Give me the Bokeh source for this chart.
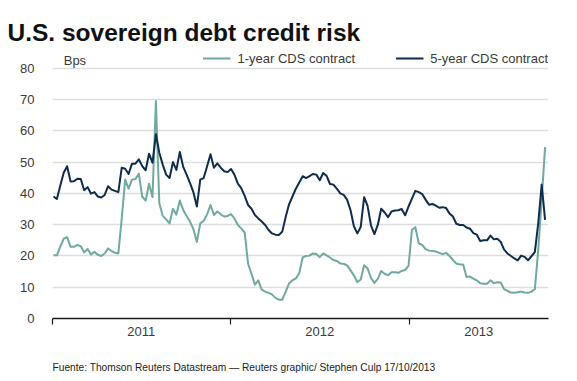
import pandas as pd
from bokeh.plotting import figure
from bokeh.models import FixedTicker, Legend, LegendItem, Label, Title, ColumnDataSource
from bokeh.embed import file_html
from bokeh.resources import INLINE

# ---------------- data ----------------
start_date = "2011-01-03"
one_year = [
    20.2, 20.2, 23.0, 25.5, 26.0, 22.9, 22.9, 23.5, 23.1, 21.1,
    22.2, 20.5, 21.3, 20.4, 20.0, 20.8, 22.4, 21.6, 21.0, 20.8,
    32.0, 44.4, 41.5, 44.4, 44.6, 46.3, 39.0, 37.7, 43.1, 38.8,
    69.5, 36.9, 32.8, 31.7, 30.4, 35.1, 33.2, 37.7, 34.7, 32.8,
    31.0, 28.5, 24.5, 30.4, 31.2, 33.3, 36.3, 33.1, 34.2, 33.3,
    32.6, 32.8, 33.4, 32.0, 29.9, 28.8, 27.5, 17.5, 14.3, 10.8,
    12.2, 9.2, 8.6, 8.2, 7.7, 6.6, 6.0, 6.0, 8.5, 11.2,
    12.2, 12.8, 14.5, 19.5, 20.0, 20.1, 20.8, 20.6, 19.6, 20.8,
    20.2, 19.5, 18.7, 18.4, 17.6, 17.5, 17.0, 15.4, 13.8, 11.6,
    12.5, 17.0, 16.0, 13.0, 11.4, 12.7, 15.2, 14.3, 13.8, 14.8,
    14.8, 14.6, 15.2, 15.5, 16.8, 28.3, 29.2, 24.0, 23.5, 22.2,
    21.7, 21.6, 21.4, 21.0, 20.6, 21.0, 20.0, 18.7, 17.6, 17.3,
    17.3, 13.3, 13.4, 12.7, 12.2, 11.3, 11.1, 11.1, 12.2, 11.3,
    11.6, 11.5, 9.4, 8.8, 8.3, 8.2, 8.4, 8.6, 8.3, 8.2,
    8.6, 9.4, 22.0, 38.0, 54.8,
]
five_year = [
    39.0, 38.2, 42.5, 46.6, 48.7, 43.8, 43.9, 44.7, 44.6, 41.0,
    42.0, 39.9, 40.4, 39.0, 38.7, 39.5, 42.3, 41.2, 40.8, 40.4,
    48.2, 47.9, 46.2, 49.5, 49.5, 50.9, 48.7, 47.4, 52.7, 49.8,
    58.9, 53.0, 49.2, 46.0, 44.9, 50.0, 47.5, 53.2, 48.5, 46.0,
    43.3, 40.3, 35.8, 44.4, 44.9, 48.7, 52.5, 48.2, 49.6, 48.2,
    47.1, 46.8, 47.8, 46.0, 43.1, 41.7, 39.2, 36.3, 35.1, 33.1,
    32.0, 31.0, 29.9, 28.3, 27.2, 26.8, 26.7, 27.7, 32.4, 36.5,
    39.0, 41.5, 43.5, 45.5, 44.9, 45.5, 46.2, 46.0, 44.2, 46.5,
    45.6, 43.0, 42.8, 41.5, 40.0, 39.5, 38.0, 34.7, 29.5, 27.2,
    29.3, 38.8, 36.0, 29.8, 27.0, 29.9, 35.1, 33.9, 32.4, 34.2,
    34.5, 34.6, 35.0, 33.0, 35.8, 38.3, 40.8, 40.4, 39.8, 38.0,
    36.4, 36.6, 36.1, 35.4, 35.6, 35.3, 33.6, 32.6, 30.3, 29.9,
    29.9, 29.1, 28.7, 27.3, 26.8, 24.8, 25.0, 25.0, 26.5, 25.3,
    25.5, 24.5, 22.0, 20.8, 20.0, 19.2, 18.6, 20.1, 19.7, 18.6,
    19.9, 21.2, 30.5, 42.8, 31.5,
]
dates = pd.date_range(start_date, periods=len(one_year), freq="7D")

series_names = ["1-year CDS contract", "5-year CDS contract"]
series_colors = ["#6fa9a0", "#0e2c4c"]

year_labels = ["2011", "2012", "2013"]
year_label_dates = ["2011-07-02", "2012-07-02", "2013-05-24"]
year_boundaries = ["2011-01-01", "2012-01-01", "2013-01-01"]
x_start, x_end = "2011-01-01", "2013-10-14"
y_ticks = [0, 10, 20, 30, 40, 50, 60, 70, 80]
y_max = 86

title_text = "U.S. sovereign debt credit risk"
unit_text = "Bps"
unit_date = "2011-01-24"
unit_y = 82.6
source_text = "Fuente: Thomson Reuters Datastream \u2014 Reuters graphic/ Stephen Culp 17/10/2013"


def ms(d):
    return pd.Timestamp(d).value / 1e6


FONT = "Liberation Sans"
TXT = "#3a3a3a"

src = ColumnDataSource(dict(date=dates, one=one_year, five=five_year))

p = figure(
    width=577, height=381,
    x_axis_type="datetime",
    x_range=(ms(x_start), ms(x_end)),
    y_range=(0, y_max),
    output_backend="svg",
    toolbar_location=None,
    min_border_left=52, min_border_right=29,
    min_border_top=49, min_border_bottom=63,
)
p.outline_line_color = None
p.background_fill_color = "white"
p.border_fill_color = "white"

# title
p.title.text = title_text
p.title.text_font = FONT
p.title.text_font_size = "24.5px"
p.title.text_font_style = "bold"
p.title.text_color = "#111111"
p.title.align = "left"
p.title.offset = -45
p.title.standoff = 8

r1 = p.line("date", "one", source=src, color=series_colors[0], line_width=2, line_join="round")
r2 = p.line("date", "five", source=src, color=series_colors[1], line_width=2, line_join="round")

# y axis
p.yaxis.ticker = FixedTicker(ticks=y_ticks)
p.yaxis.axis_line_color = None
p.yaxis.major_tick_line_color = None
p.yaxis.minor_tick_line_color = None
p.yaxis.major_label_text_font = FONT
p.yaxis.major_label_text_font_size = "13px"
p.yaxis.major_label_text_color = TXT
p.yaxis.major_label_standoff = 12

# grid
p.xgrid.grid_line_color = None
p.ygrid.ticker = FixedTicker(ticks=y_ticks)
p.ygrid.grid_line_color = "#dddddd"
p.ygrid.grid_line_width = 1.5

# x axis: labels centred on years, tick marks on year boundaries
xt = FixedTicker(ticks=[ms(d) for d in year_label_dates],
                 minor_ticks=[ms(d) for d in year_boundaries])
p.xaxis.ticker = xt
p.xaxis.major_label_overrides = {ms(d): lab for d, lab in zip(year_label_dates, year_labels)}
p.xaxis.axis_line_color = "#1a1a1a"
p.xaxis.axis_line_width = 1.5
p.xaxis.major_tick_in = 0
p.xaxis.major_tick_out = 0
p.xaxis.minor_tick_in = 0
p.xaxis.minor_tick_out = 6
p.xaxis.minor_tick_line_color = "#1a1a1a"
p.xaxis.minor_tick_line_width = 1.2
p.xaxis.major_label_text_font = FONT
p.xaxis.major_label_text_font_size = "13px"
p.xaxis.major_label_text_color = TXT
p.xaxis.major_label_standoff = 2
# blank spacer label so the source line sits lower
p.xaxis.axis_label = " "
p.xaxis.axis_label_text_font_size = "10px"
p.xaxis.axis_label_standoff = 0

# unit label
p.add_layout(Label(x=ms(unit_date), y=unit_y, text=unit_text, text_font=FONT,
                   text_font_size="13px", text_color=TXT, text_baseline="middle"))

# legend
legend = Legend(
    items=[LegendItem(label=series_names[0], renderers=[r1]),
           LegendItem(label=series_names[1], renderers=[r2])],
    orientation="horizontal", location="top_right",
    margin=0, padding=0, spacing=40,
    glyph_width=28, glyph_height=18, label_standoff=7, label_height=18,
    label_text_font=FONT, label_text_font_size="13px", label_text_color=TXT,
    background_fill_alpha=0, border_line_alpha=0,
)
p.add_layout(legend)

# source footer
p.add_layout(Title(text=source_text, align="left", text_font=FONT,
                   text_font_size="10.2px", text_font_style="normal",
                   text_color="#222222", standoff=15), "below")

open("out.html", "w").write(file_html(p, INLINE))
